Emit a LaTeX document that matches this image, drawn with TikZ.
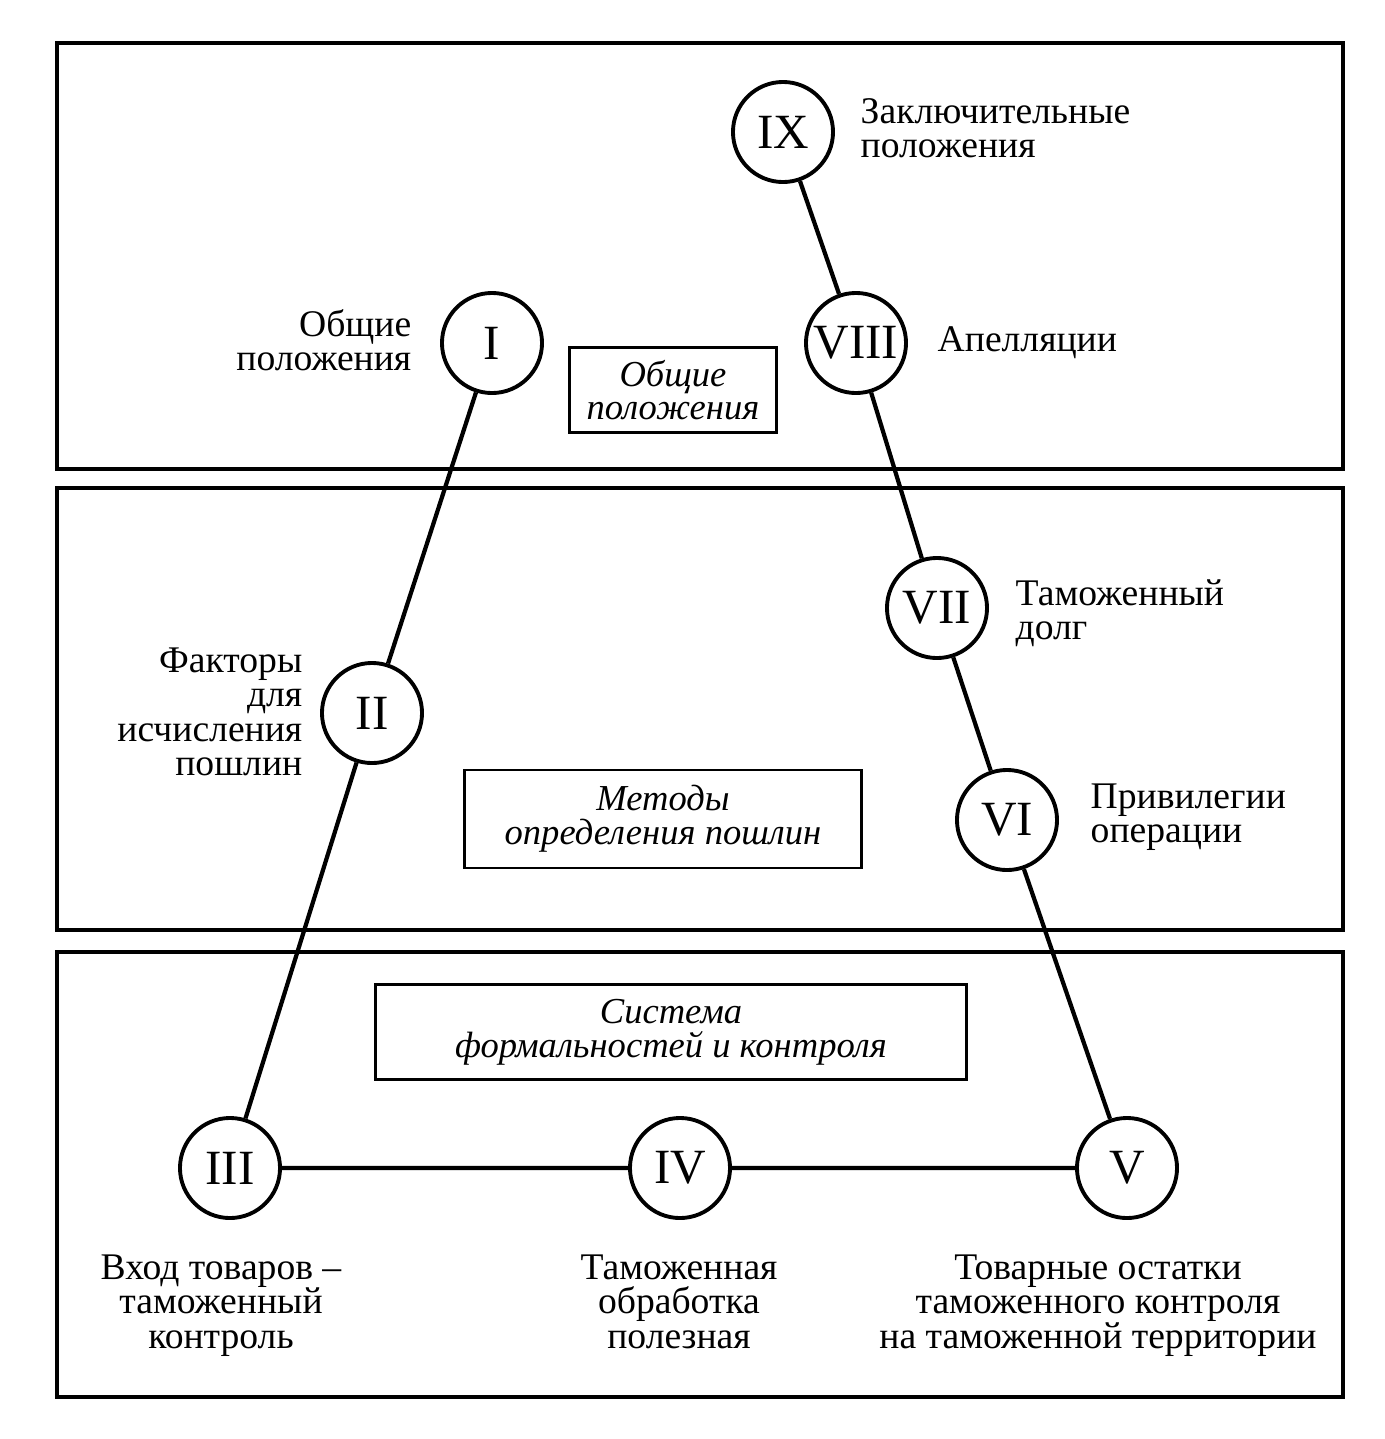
\documentclass[tikz,border=0pt]{standalone}
\usepackage{fontspec}
\setmainfont{Liberation Serif}
\usepackage{tikz}

\begin{document}
\begin{tikzpicture}[x=0.01cm,y=-0.01cm,
  part/.style={draw,line width=1.2pt},
  num/.style={draw,circle,line width=1.1pt,minimum size=1cm,inner sep=0pt,
    font=\fontsize{14}{16}\selectfont},
  title/.style={draw,line width=0.8pt,align=center,
    font=\fontsize{10.4}{9.6}\selectfont\itshape},
  txt/.style={inner sep=0pt,font=\fontsize{10.7}{9.8}\selectfont},
  link/.style={line width=1.2pt}]
  \useasboundingbox
    (0,0)
    rectangle
    (1385,1439);
  % the three parts
  \draw[part]
    (57,43)
    rectangle
    (1343,469);
  \draw[part]
    (57,488)
    rectangle
    (1343,930);
  \draw[part]
    (57,952)
    rectangle
    (1343,1397);
  \node[title,minimum width=2.07cm,minimum height=0.85cm] (general) at (673,390)
    {Общие\\положения};
  \node[title,minimum width=3.97cm,minimum height=0.98cm] (methods) at (663,819)
    {Методы\\определения пошлин};
  \node[title,minimum width=5.9cm,minimum height=0.95cm] (system) at (671,1032)
    {Система\\формальностей и контроля};
  % sections
  \node[num] (s1) at (492,343) {I};
  \node[num] (s2) at (372,713) {II};
  \node[num] (s3) at (230,1168) {III};
  \node[num] (s4) at (680,1168) {IV};
  \node[num] (s5) at (1127,1168) {V};
  \node[num] (s6) at (1007,820) {VI};
  \node[num] (s7) at (937,608) {VII};
  \node[num] (s8) at (856,343) {VIII};
  \node[num] (s9) at (783,132) {IX};
  \draw[link] (s1) -- (s2) -- (s3) -- (s4) -- (s5) -- (s6) -- (s7) -- (s8) -- (s9);
  % section names
  \node[txt,anchor=east,align=right] (n1) at (412,340) {Общие\\положения};
  \node[txt,anchor=east,align=right] (n2) at (303,712)
    {Факторы\\для\\исчисления\\пошлин};
  \node[txt,anchor=north,align=center] (n3) at (221,1254)
    {Вход товаров –\\таможенный\\контроль};
  \node[txt,anchor=north,align=center] (n4) at (679,1254)
    {Таможенная\\обработка\\полезная};
  \node[txt,anchor=north,align=center] (n5) at (1098,1254)
    {Товарные остатки\\таможенного контроля\\на таможенной территории};
  \node[txt,anchor=west,align=left] (n6) at (1090,817) {Привилегии\\операции};
  \node[txt,anchor=west,align=left] (n7) at (1015,613) {Таможенный\\долг};
  \node[txt,anchor=west] (n8) at (937,343) {Апелляции};
  \node[txt,anchor=west,align=left] (n9) at (860,128)
    {Заключительные\\положения};
\end{tikzpicture}
\end{document}
